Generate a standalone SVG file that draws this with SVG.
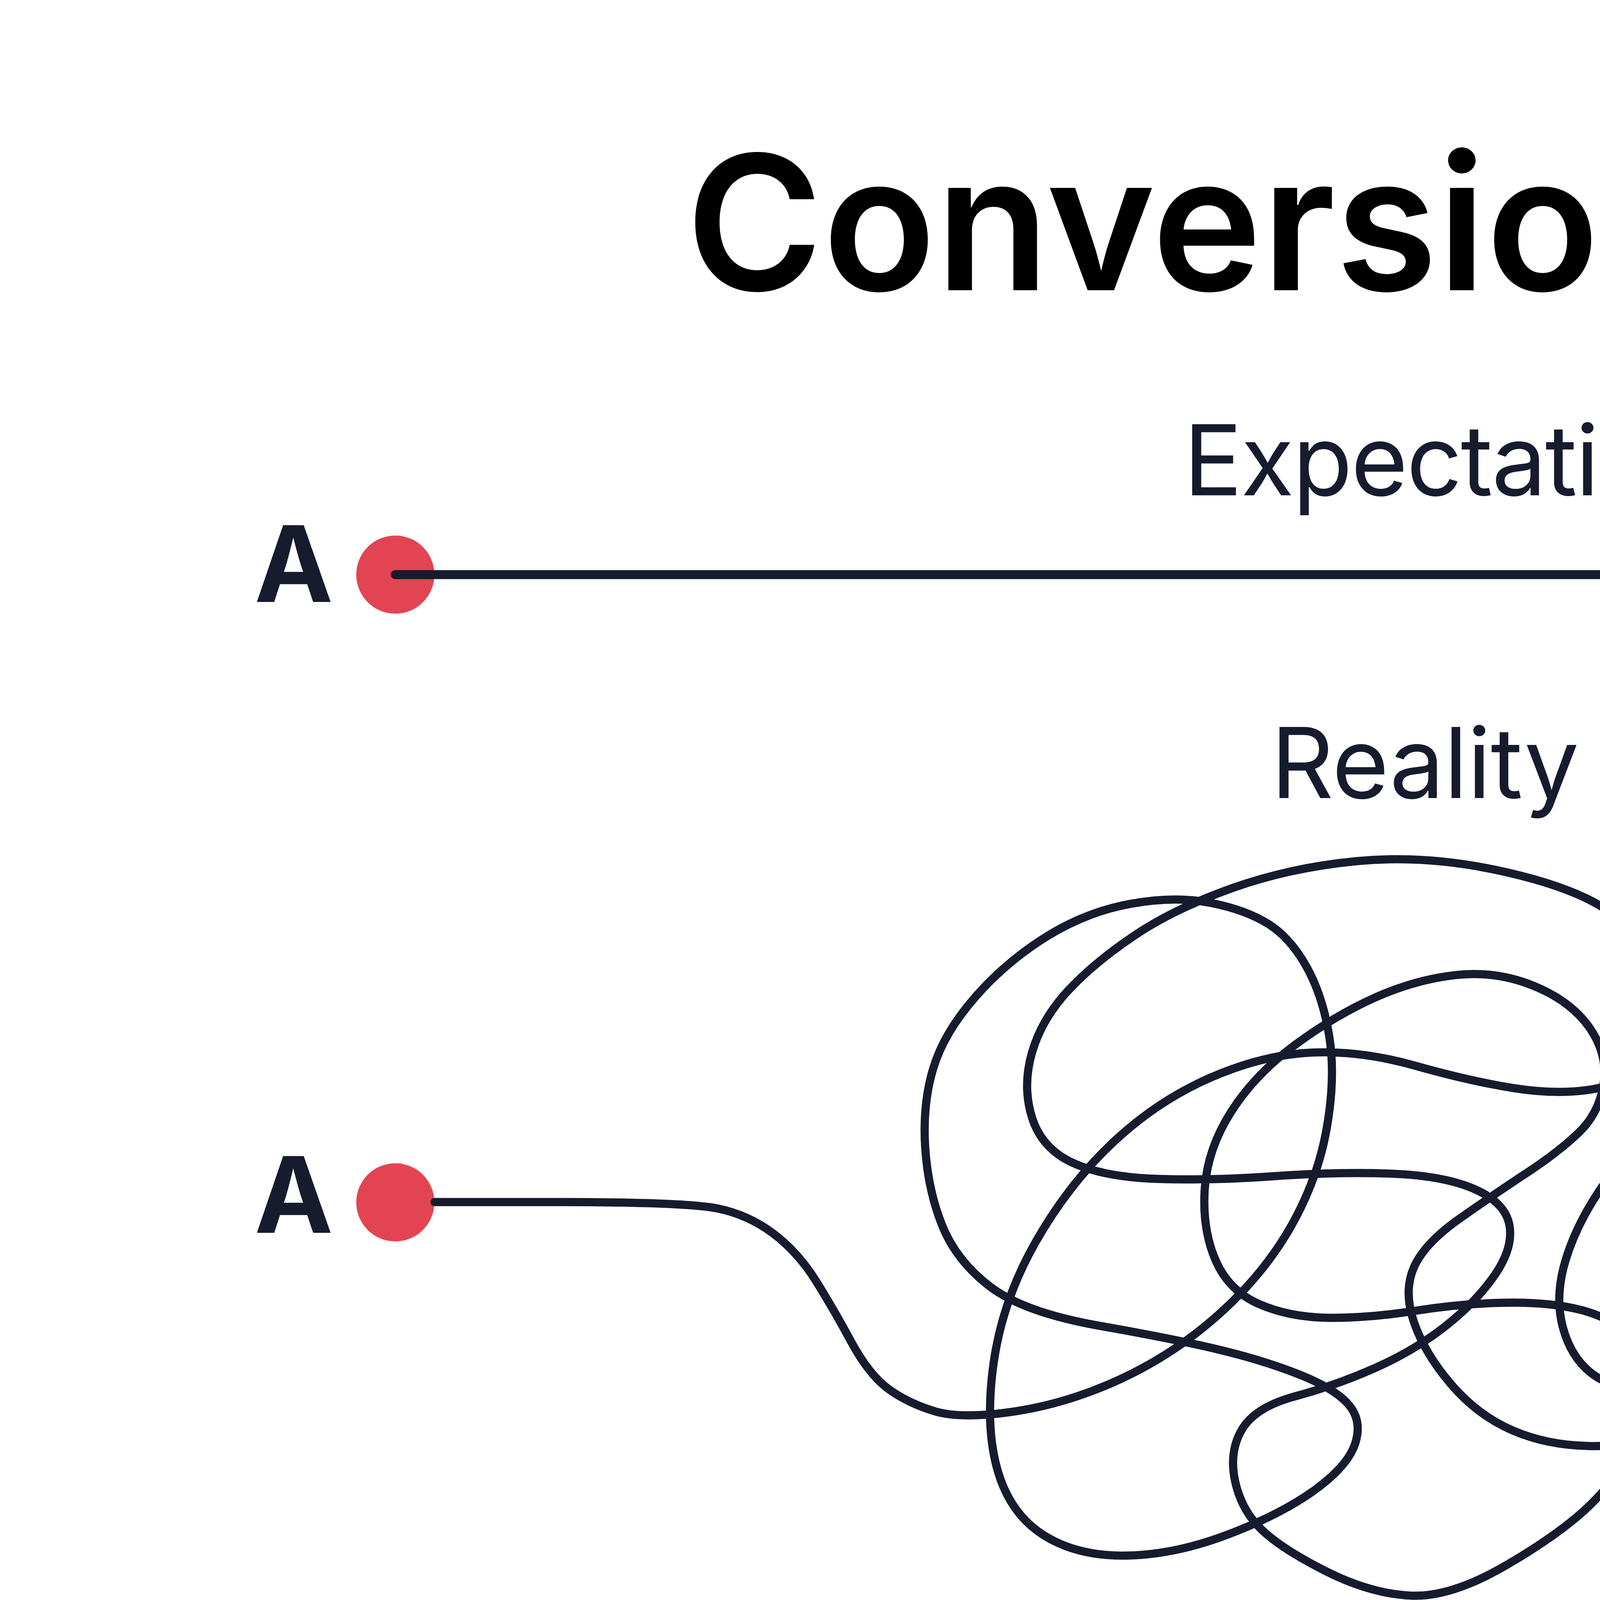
<svg xmlns="http://www.w3.org/2000/svg" width="7112" height="4167" viewBox="0 0 7112 4167">
<style>
.t{font-family:Inter,"Liberation Sans",sans-serif;fill:#000;text-anchor:middle}
.lbl{font-family:Inter,"Liberation Sans",sans-serif;fill:#161b2e;font-weight:700;font-size:270px;text-anchor:middle}
.sub{font-family:Inter,"Liberation Sans",sans-serif;fill:#161b2e;font-size:250px;text-anchor:middle}
.ln{fill:none;stroke:#161b2e;stroke-linecap:round;stroke-linejoin:round}
.dot{fill:#e34454}
</style>
<rect width="7112" height="4167" fill="#fff"/>
<g id="title"><text class="t" x="3648" y="743" font-size="480" font-weight="600" textLength="3784" lengthAdjust="spacingAndGlyphs">Conversion Path</text></g>
<g id="expectation-label"><text class="sub" x="3707" y="1268" textLength="1354" lengthAdjust="spacing">Expectation</text></g>
<g id="reality-label"><text class="sub" x="3648" y="2043" textLength="789" lengthAdjust="spacing">Reality</text></g>
<g id="a-top"><text class="lbl" x="752" y="1541">A</text><circle class="dot" cx="1012" cy="1471" r="100"/></g>
<g id="b-top"><text class="lbl" x="6156" y="1541">B</text></g>
<g id="a-bottom"><text class="lbl" x="752" y="3156">A</text><circle class="dot" cx="1012" cy="3078" r="100"/></g>
<g id="b-bottom"><text class="lbl" x="6156" y="3156">B</text></g>
<g id="connectors">
<line class="ln" x1="1012" y1="1471" x2="5680" y2="1471" stroke-width="23"/>
<polygon class="dot" points="5654,1362 5882,1471 5654,1580"/>
<g transform="scale(4.559)">
<path class="ln" stroke-width="4.6" d="M244 675 L314.5 675 Q385 675 402.5 678.5 Q420 682 434 692.5 Q448 703 458 719 Q468 735 478 753.5 Q488 772 499 780 Q510 788 525 792.5 Q540 797 570 792.5 Q600 788 630 774 Q660 760 685 737.5 Q710 715 725 688.5 Q740 662 745 633.5 Q750 605 746.5 582.5 Q743 560 734 543.5 Q725 527 712.5 519 Q700 511 680 507 Q660 503 635 507.5 Q610 512 587.5 526 Q565 540 547.5 560 Q530 580 524 600 Q518 620 519.5 644 Q521 668 529 688 Q537 708 556 722.5 Q575 737 617.5 744.5 Q660 752 685 758 Q710 764 730 772 Q750 780 757.5 789 Q765 798 761 810.5 Q757 823 738.5 836.5 Q720 850 690 861.5 Q660 873 632.5 873.5 Q605 874 586 862 Q567 850 560 825 Q553 800 558 765 Q563 730 581.5 697.5 Q600 665 625 641.5 Q650 618 680 605 Q710 592 737.5 591 Q765 590 795 598.5 Q825 607 850 611 Q875 615 895 611.5 Q915 608 928.5 595.5 Q942 583 942.5 568 Q943 553 931.5 537.5 Q920 522 900 509.5 Q880 497 840 488.5 Q800 480 762.5 483.5 Q725 487 692.5 498.5 Q660 510 637.5 525 Q615 540 600 556 Q585 572 579.5 591 Q574 610 579.5 627.5 Q585 645 602.5 653 Q620 661 650 662 Q680 663 715 660.5 Q750 658 780 659 Q810 660 827.5 667.5 Q845 675 847.5 687.5 Q850 700 840 715 Q830 730 812.5 744 Q795 758 772.5 768 Q750 778 727.5 784 Q705 790 697.5 802.5 Q690 815 693.5 831.5 Q697 848 708.5 859 Q720 870 745 882.5 Q770 895 792.5 896 Q815 897 846.5 878.5 Q878 860 894 844 Q910 828 919 810 Q928 792 926.5 776 Q925 760 915 750 Q905 740 887.5 735.5 Q870 731 845 731.5 Q820 732 795 736 Q770 740 747.5 740 Q725 740 707.5 732.5 Q690 725 682.5 707.5 Q675 690 676.5 667.5 Q678 645 691.5 624 Q705 603 727.5 586.5 Q750 570 772.5 560 Q795 550 817.5 547.5 Q840 545 861 553.5 Q882 562 892.5 577 Q903 592 900.5 608.5 Q898 625 886.5 636 Q875 647 857.5 658.5 Q840 670 820 684 Q800 698 794 711.5 Q788 725 794 742.5 Q800 760 815 777.5 Q830 795 850 803.5 Q870 812 895 812 Q920 812 945 807 Q970 802 991 790 Q1012 778 1022 761.5 Q1032 745 1033 722.5 Q1034 700 1027 684 Q1020 668 1007.5 655 Q995 642 972.5 636 Q950 630 931 639 Q912 648 898.5 668 Q885 688 879 708 Q873 728 877.5 745 Q882 762 893.5 771 Q905 780 925 780.5 Q945 781 958.5 774.5 Q972 768 980 751.5 Q988 735 988.5 720 Q989 705 983.5 695 Q978 685 968 681 Q958 677 948 681 Q938 685 932.5 697.5 Q927 710 931 722.5 Q935 735 947.5 745.5 Q960 756 980 763 Q1000 770 1016 767.5 Q1032 765 1047 751.5 Q1062 738 1077 722.5 Q1092 707 1108.5 694.5 Q1125 682 1152.5 678.5 Q1180 675 1210 675 L1245 675"/>
</g>
<polygon class="dot" points="5654,2969 5882,3078 5654,3187"/>
</g>
</svg>
